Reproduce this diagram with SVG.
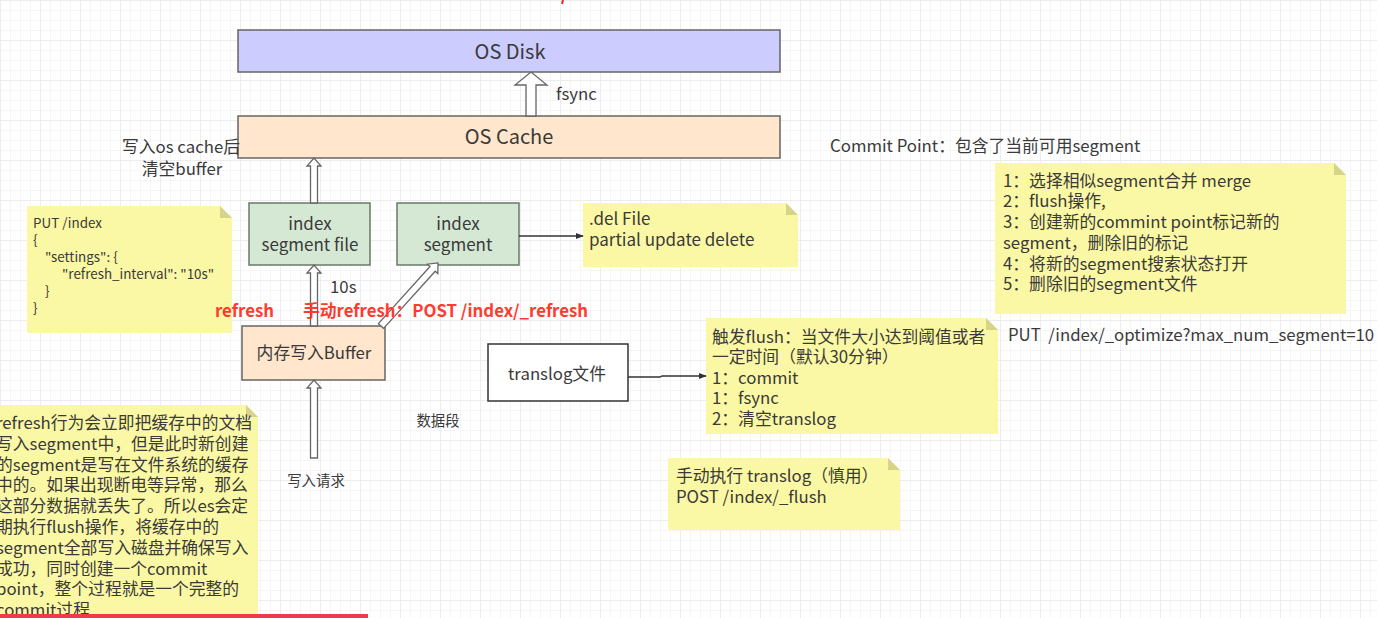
<svg xmlns="http://www.w3.org/2000/svg" width="1377" height="618" viewBox="0 0 1377 618">
<defs>
<pattern id="grid" width="10" height="10" patternUnits="userSpaceOnUse">
<path d="M10 0 L0 0 0 10" fill="none" stroke="#eeeeee" stroke-width="1"/>
</pattern>
<pattern id="grid2" width="40" height="40" patternUnits="userSpaceOnUse">
<path d="M40 0 L0 0 0 40" fill="none" stroke="#e4e4e4" stroke-width="1"/>
</pattern>
<marker id="tri" viewBox="0 0 10 10" refX="9" refY="5" markerWidth="8" markerHeight="8" orient="auto" markerUnits="userSpaceOnUse">
<path d="M0 1 L10 5 L0 9 Z" fill="#333"/>
</marker>
</defs>
<style>
text{font-family:"Noto Sans CJK SC","Noto Sans",sans-serif;fill:#3a3a3a;}
.box{stroke:#666;stroke-width:1.5;}
.disk{fill:#ccccff;}
.cache{fill:#ffe6cc;}
.seg{fill:#d5e8d4;stroke:#6a7a6a;stroke-width:1.5;}
.note{fill:#faf8a4;}
.fold{fill:#d6d48a;}
.harrow{fill:#fff;stroke:#666;stroke-width:1.3;}
.t18{font-size:20px;}
.t16{font-size:16.8px;}
.t17{font-size:17px;}
.t12{font-size:13.4px;}
.t14{font-size:14.4px;}
.red{fill:#ff3b30;font-weight:bold;font-size:16.8px;}
.c{text-anchor:middle;}
</style>
<rect width="1377" height="618" fill="#fff"/>
<rect width="1377" height="618" fill="url(#grid)"/>
<rect width="1377" height="618" fill="url(#grid2)"/>

<g id="os-disk">
<rect class="box disk" x="238" y="30" width="542" height="42"/>
<text class="t18 c" x="510" y="59">OS Disk</text>
</g>
<g id="os-cache">
<rect class="box cache" x="238" y="116" width="542" height="42"/>
<text class="t18 c" x="509" y="144">OS Cache</text>
</g>
<g id="segment-file">
<rect class="seg" x="249" y="203" width="121" height="62"/>
<text class="t17 c" x="310" y="230">index</text>
<text class="t17 c" x="310" y="251">segment file</text>
</g>
<g id="segment">
<rect class="seg" x="397" y="203" width="122" height="62"/>
<text class="t17 c" x="458" y="230">index</text>
<text class="t17 c" x="458" y="251">segment</text>
</g>
<g id="buffer">
<rect class="box cache" x="242" y="326" width="143" height="54"/>
<text class="t16 c" x="314" y="359">内存写入Buffer</text>
</g>
<g id="translog">
<rect x="488" y="344" width="140" height="57" fill="#fff" stroke="#333" stroke-width="1.5"/>
<text class="t16 c" x="557" y="380">translog文件</text>
</g>

<g id="note-put-index">
<path class="note" d="M27 206 H220 L232 218 V333 H27 Z"/>
<path class="fold" d="M220 206 L232 218 H220 Z"/>
<text class="t12" x="33" y="228">PUT /index</text>
<text class="t12" x="33" y="245">{</text>
<text class="t12" x="45" y="262">"settings": {</text>
<text class="t12" x="62" y="279">"refresh_interval": "10s"</text>
<text class="t12" x="45" y="296">}</text>
<text class="t12" x="33" y="313">}</text>
</g>
<g id="note-del">
<path class="note" d="M583 203 H786 L798 215 V267 H583 Z"/>
<path class="fold" d="M786 203 L798 215 H786 Z"/>
<text class="t17" x="589" y="225">.del File</text>
<text class="t17" x="589" y="246">partial update delete</text>
</g>
<g id="note-merge">
<path class="note" d="M995 163 H1334 L1346 175 V314 H995 Z"/>
<path class="fold" d="M1334 163 L1346 175 H1334 Z"/>
<text class="t16" x="1003" y="187">1：选择相似segment合并 merge</text>
<text class="t16" x="1003" y="207">2：flush操作,</text>
<text class="t16" x="1003" y="228">3：创建新的commint point标记新的</text>
<text class="t16" x="1003" y="249">segment，删除旧的标记</text>
<text class="t16" x="1003" y="270">4：将新的segment搜索状态打开</text>
<text class="t16" x="1003" y="290">5：删除旧的segment文件</text>
</g>
<g id="note-flush">
<path class="note" d="M706 318 H986 L998 330 V434 H706 Z"/>
<path class="fold" d="M986 318 L998 330 H986 Z"/>
<text class="t16" x="712" y="343">触发flush：当文件大小达到阈值或者</text>
<text class="t16" x="712" y="363">一定时间（默认30分钟）</text>
<text class="t16" x="712" y="384">1：commit</text>
<text class="t16" x="712" y="404">1：fsync</text>
<text class="t16" x="712" y="425">2：清空translog</text>
</g>
<g id="note-manual-flush">
<path class="note" d="M668 458 H888 L900 470 V530 H668 Z"/>
<path class="fold" d="M888 458 L900 470 H888 Z"/>
<text class="t16" x="676" y="482">手动执行 translog（慎用）</text>
<text class="t16" x="676" y="503">POST /index/_flush</text>
</g>
<g id="note-refresh">
<path class="note" d="M-2 405 H246 L258 417 V618 H-2 Z"/>
<path class="fold" d="M246 405 L258 417 H246 Z"/>
<text class="t16" x="-4" y="429">refresh行为会立即把缓存中的文档</text>
<text class="t16" x="-4" y="450">写入segment中，但是此时新创建</text>
<text class="t16" x="-4" y="471">的segment是写在文件系统的缓存</text>
<text class="t16" x="-4" y="491">中的。如果出现断电等异常，那么</text>
<text class="t16" x="-4" y="512">这部分数据就丢失了。所以es会定</text>
<text class="t16" x="-4" y="533">期执行flush操作，将缓存中的</text>
<text class="t16" x="-4" y="554">segment全部写入磁盘并确保写入</text>
<text class="t16" x="-4" y="575">成功，同时创建一个commit</text>
<text class="t16" x="-4" y="595">point，整个过程就是一个完整的</text>
<text class="t16" x="-4" y="616">commit过程</text>
</g>

<g id="connectors">
<polygon class="harrow" transform="translate(531,116)" points="-5,0 -5,-31 -16,-31 0,-44 16,-31 5,-31 5,0"/>
<polygon class="harrow" transform="translate(314,203)" points="-3.5,0 -3.5,-37 -7,-37 0,-45 7,-37 3.5,-37 3.5,0"/>
<polygon class="harrow" transform="translate(314,326)" points="-3.5,0 -3.5,-53 -7,-53 0,-61 7,-53 3.5,-53 3.5,0"/>
<polygon class="harrow" transform="translate(314,458)" points="-3.5,0 -3.5,-70 -7,-70 0,-78 7,-70 3.5,-70 3.5,0"/>
<polygon class="harrow" transform="translate(381,326) rotate(42.1)" points="-3.5,0 -3.5,-77 -7,-77 0,-85 7,-77 3.5,-77 3.5,0"/>
<line x1="519" y1="236" x2="583" y2="236" stroke="#333" stroke-width="1.3" marker-end="url(#tri)"/>
<path d="M628 377 H660 L662 376 H706" fill="none" stroke="#333" stroke-width="1.3" marker-end="url(#tri)"/>
</g>

<g id="labels">
<text class="t16" x="556" y="100">fsync</text>
<text class="t16 c" x="181" y="153">写入os cache后</text>
<text class="t16 c" x="182" y="175">清空buffer</text>
<text class="t16" x="330" y="293">10s</text>
<text class="red" x="215" y="317">refresh</text>
<text class="red" x="303" y="317">手动refresh：POST /index/_refresh</text>
<text class="t14 c" x="316" y="486">写入请求</text>
<text class="t14 c" x="438" y="426">数据段</text>
<text class="t16" x="830" y="152">Commit Point：包含了当前可用segment</text>
<text class="t16" x="1008" y="341" xml:space="preserve">PUT  /index/_optimize?max_num_segment=10</text>
</g>
<rect x="0" y="614" width="368" height="4" fill="#f03a4c"/>
<path d="M563 0 L562 4" stroke="#e03030" stroke-width="2"/>
</svg>
